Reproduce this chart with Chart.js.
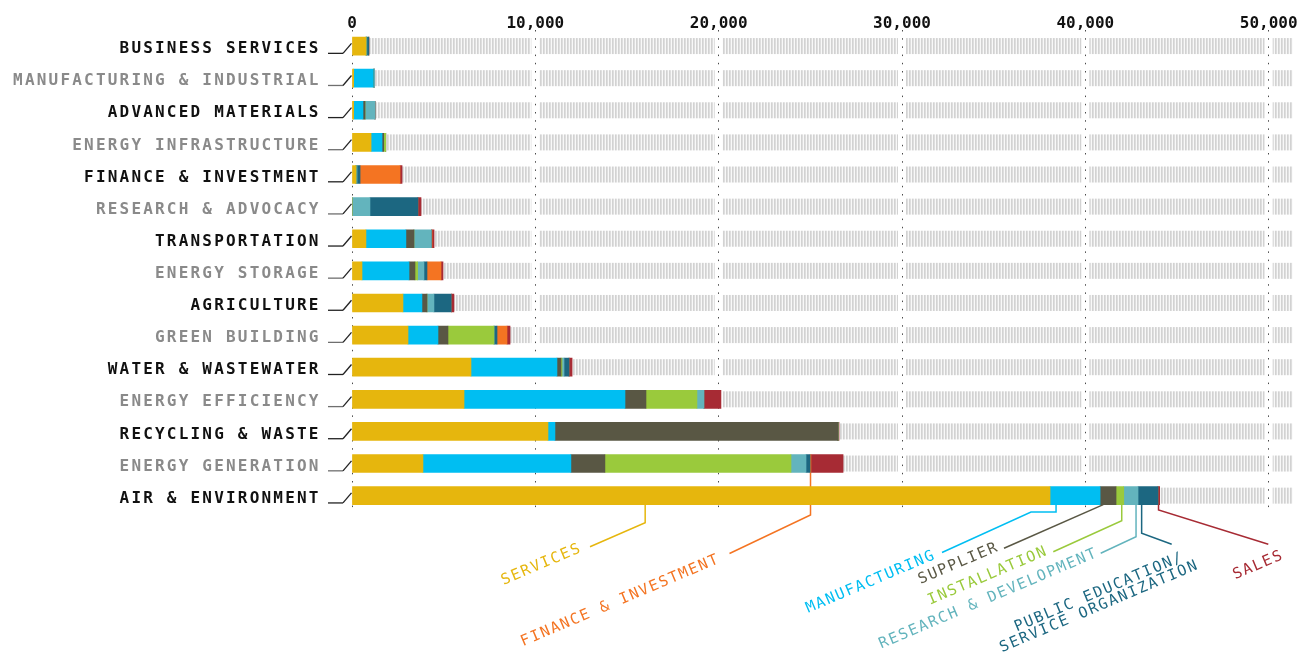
<!DOCTYPE html>
<html>
<head>
<meta charset="utf-8">
<script src="https://cdn.jsdelivr.net/npm/chart.js@4.4.1/dist/chart.umd.min.js"></script>
<style>
  html, body { margin: 0; padding: 0; background: #ffffff; }
  #wrap { width: 1305px; height: 657px; }
</style>
</head>
<body>
<div id="wrap"><canvas id="chart" width="1305" height="657"></canvas></div>
<script>
// Industry sectors, top to bottom
const categories = [
  'BUSINESS SERVICES', 'MANUFACTURING & INDUSTRIAL', 'ADVANCED MATERIALS',
  'ENERGY INFRASTRUCTURE', 'FINANCE & INVESTMENT', 'RESEARCH & ADVOCACY',
  'TRANSPORTATION', 'ENERGY STORAGE', 'AGRICULTURE', 'GREEN BUILDING',
  'WATER & WASTEWATER', 'ENERGY EFFICIENCY', 'RECYCLING & WASTE',
  'ENERGY GENERATION', 'AIR & ENVIRONMENT'
];

// Business activity breakdown per sector (stacked left to right)
const services      = [770, 90, 90, 1040, 220, 0, 760, 545, 2780, 3055, 6490, 6110, 10690, 3870, 38075];
const manufacturing = [0, 1070, 510, 600, 0, 0, 2180, 2565, 1035, 1635, 4690, 8780, 380, 8070, 2730];
const supplier      = [0, 0, 110, 90, 0, 0, 440, 325, 275, 545, 220, 1145, 15440, 1855, 870];
const installation  = [0, 0, 0, 110, 0, 0, 0, 145, 0, 2510, 55, 2780, 0, 10150, 420];
const research      = [40, 70, 545, 0, 55, 980, 945, 345, 380, 0, 110, 380, 0, 820, 780];
const publicEd      = [110, 0, 0, 0, 165, 2620, 0, 165, 945, 165, 275, 0, 0, 220, 1090];
const finance       = [0, 0, 0, 0, 2180, 0, 40, 765, 0, 545, 0, 0, 0, 50, 0];
const sales         = [0, 0, 0, 0, 110, 165, 110, 110, 145, 165, 165, 930, 55, 1750, 90];

const seriesNames = ['SERVICES', 'MANUFACTURING', 'SUPPLIER', 'INSTALLATION',
  'RESEARCH & DEVELOPMENT', 'PUBLIC EDUCATION/SERVICE ORGANIZATION',
  'FINANCE & INVESTMENT', 'SALES'];
const seriesValues = [services, manufacturing, supplier, installation, research, publicEd, finance, sales];
const seriesColors = ['#e6b60d', '#00bef2', '#595744', '#9aca3c', '#63b4bd', '#1c6781', '#f47422', '#a72b34'];

// Value axis
const tickValues = [0, 10000, 20000, 30000, 40000, 50000];
const axisMax = 51300;

const MONO = '"DejaVu Sans Mono", "Liberation Mono", monospace';
const BAR_H = 18;
const TRACK_H = 16;

// Callout labels under the chart: which stacked segment each points at,
// the leader path (null x = the segment anchor) and the end of each text line.
const legendLayout = [
  { series: 0, row: 14, frac: 0.42, path: [[null, 522.7], [590, 546.7]],   ends: [[581, 552]] },
  { series: 6, row: 13, frac: 0.5,  path: [[null, 515], [729.5, 553.5]],   ends: [[719, 563]] },
  { series: 1, row: 14, frac: 0.12, path: [[null, 512], [1031, 512], [942, 552.5]], ends: [[935, 559]] },
  { series: 2, row: 14, frac: 0.2,  path: [[1004, 548.3]],                 ends: [[998, 551]] },
  { series: 3, row: 14, frac: 0.74, path: [[null, 520.7], [1053.3, 551.7]], ends: [[1047, 555]] },
  { series: 4, row: 14, frac: 0.86, path: [[null, 536.7], [1100.7, 553.3]], ends: [[1097, 557]] },
  { series: 5, row: 14, frac: 0.18, path: [[null, 533.3], [1171.7, 544.3]], ends: [[1183, 561], [1198, 569]],
    lines: ['PUBLIC EDUCATION/', 'SERVICE ORGANIZATION'] },
  { series: 7, row: 14, frac: 0.3,  path: [[null, 510], [1268.3, 544.3]],  ends: [[1283, 559]] }
];
const LEGEND_ANGLE = -23 * Math.PI / 180;

function makeHatch(ctx) {
  const c = document.createElement('canvas');
  c.width = 3; c.height = 1;
  const g = c.getContext('2d');
  g.fillStyle = '#d2d2d2'; g.fillRect(0, 0, 1, 1);
  g.fillStyle = '#dedede'; g.fillRect(1, 0, 1, 1);
  g.fillStyle = '#f8f8f8'; g.fillRect(2, 0, 1, 1);
  return ctx.createPattern(c, 'repeat');
}

function segmentAnchor(chart, item) {
  const xs = chart.scales.x, ys = chart.scales.y;
  let start = 0;
  for (let s = 0; s < item.series; s++) start += seriesValues[s][item.row];
  const v = start + seriesValues[item.series][item.row] * item.frac;
  return { x: xs.getPixelForValue(v), y: ys.getPixelForValue(item.row) + BAR_H / 2 };
}

const decorPlugin = {
  id: 'decor',
  beforeDraw(chart) {
    // category labels are drawn with tracking; the value-axis labels come later with none
    chart.ctx.letterSpacing = '2.2px';
  },
  beforeDatasetsDraw(chart) {
    const ctx = chart.ctx;
    ctx.letterSpacing = '0px';
    const xs = chart.scales.x, ys = chart.scales.y, area = chart.chartArea;
    // hatched track behind every bar, broken at each gridline
    ctx.save();
    ctx.fillStyle = makeHatch(ctx);
    categories.forEach((c, i) => {
      const cy = ys.getPixelForValue(i);
      for (let k = 0; ; k++) {
        const a = k === 0 ? xs.getPixelForValue(0) : xs.getPixelForValue(k * 10000) + 4;
        if (a >= area.right) break;
        const b = Math.min(xs.getPixelForValue((k + 1) * 10000) - 4, area.right);
        ctx.fillRect(a, cy - TRACK_H / 2, b - a, TRACK_H);
      }
    });
    // leader lines from the bottom bars to the callouts
    ctx.lineWidth = 1.5;
    ctx.lineJoin = 'miter';
    legendLayout.forEach(item => {
      const p = segmentAnchor(chart, item);
      ctx.strokeStyle = seriesColors[item.series];
      ctx.beginPath();
      ctx.moveTo(p.x, p.y);
      item.path.forEach(([x, y]) => ctx.lineTo(x === null ? p.x : x, y));
      ctx.stroke();
    });
    ctx.restore();
  },
  afterDatasetsDraw(chart) {
    const ctx = chart.ctx, ys = chart.scales.y, left = chart.chartArea.left;
    // small elbow connectors from each label to its bar
    ctx.save();
    ctx.lineWidth = 1.3;
    categories.forEach((c, i) => {
      const cy = ys.getPixelForValue(i);
      ctx.strokeStyle = i % 2 ? '#6f6f6f' : '#222222';
      ctx.beginPath();
      ctx.moveTo(left - 24, cy + 7.3);
      ctx.lineTo(left - 9, cy + 7.3);
      ctx.stroke();
      ctx.strokeStyle = '#222222';
      ctx.beginPath();
      ctx.moveTo(left - 9, cy + 7.3);
      ctx.lineTo(left - 0.5, cy - 2.7);
      ctx.stroke();
    });
    ctx.restore();
  },
  afterDraw(chart) {
    const ctx = chart.ctx;
    const ux = Math.cos(LEGEND_ANGLE), uy = Math.sin(LEGEND_ANGLE);
    ctx.save();
    ctx.font = '15px ' + MONO;
    ctx.letterSpacing = '1.7px';
    ctx.textAlign = 'left';
    ctx.textBaseline = 'alphabetic';
    legendLayout.forEach(item => {
      const lines = item.lines || [seriesNames[item.series]];
      ctx.fillStyle = seriesColors[item.series];
      lines.forEach((t, j) => {
        const w = ctx.measureText(t).width - 1.7;
        const [ex, ey] = item.ends[j];
        ctx.save();
        ctx.translate(ex - w * ux, ey - w * uy);
        ctx.rotate(LEGEND_ANGLE);
        ctx.fillText(t, 0, 0);
        ctx.restore();
      });
    });
    ctx.restore();
    ctx.letterSpacing = '0px';
  }
};

const datasets = seriesNames.map((name, s) => ({
  label: name,
  data: seriesValues[s],
  backgroundColor: seriesColors[s],
  borderWidth: 0,
  barThickness: BAR_H
}));

new Chart(document.getElementById('chart'), {
  type: 'bar',
  data: { labels: categories, datasets },
  plugins: [decorPlugin],
  options: {
    indexAxis: 'y',
    responsive: false,
    animation: false,
    events: [],
    layout: { padding: { top: 0, right: 12.5, bottom: 145.3, left: 0 } },
    plugins: { legend: { display: false }, tooltip: { enabled: false } },
    scales: {
      x: {
        position: 'top',
        stacked: true,
        min: 0,
        max: axisMax,
        afterBuildTicks(scale) {
          scale.ticks = tickValues.map(v => ({ value: v }));
        },
        afterFit(scale) {
          scale.height = 30;
          scale.paddingLeft = 0;
          scale.paddingRight = 0;
        },
        border: { display: false, dash: [1.5, 6.7] },
        grid: {
          drawTicks: false,
          color: '#4a4a4a',
          lineWidth: 1
        },
        ticks: {
          z: 1,
          padding: -2,
          color: '#111111',
          font: { family: MONO, size: 16, weight: 'bold', lineHeight: 1 },
          maxRotation: 0,
          callback: v => v.toLocaleString('en-US')
        }
      },
      y: {
        stacked: true,
        afterFit(scale) {
          scale.width = 352;
          scale.paddingTop = 0;
          scale.paddingBottom = 0;
        },
        border: { display: false },
        grid: { display: false, drawTicks: false },
        ticks: {
          padding: 31.3,
          labelOffset: 3,
          color: c => (c.index % 2 ? '#8a8a8a' : '#111111'),
          font: { family: MONO, size: 16, weight: 'bold' }
        }
      }
    }
  }
});
</script>
</body>
</html>
